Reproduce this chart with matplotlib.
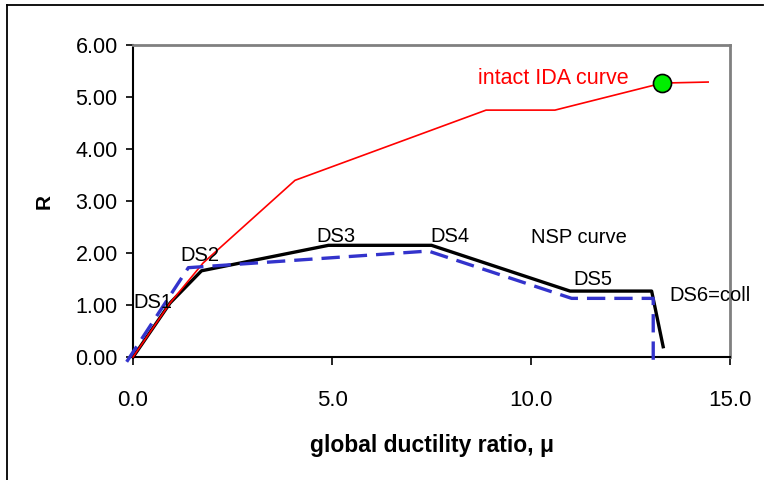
import matplotlib
matplotlib.use('Agg')
import matplotlib.pyplot as plt
from matplotlib.lines import Line2D

plt.rcParams['font.family'] = ['Liberation Sans', 'DejaVu Sans']

# intact IDA curve
ida_mu = [0.0, 0.93, 1.76, 4.07, 8.87, 10.6, 13.3, 14.45]
ida_R = [0.0, 1.04, 1.81, 3.40, 4.75, 4.75, 5.27, 5.29]
collapse_mu, collapse_R = 13.3, 5.27

# NSP curve (solid) and its idealised version (dashed)
nsp_mu = [0.0, 0.93, 1.72, 4.91, 7.50, 10.98, 13.03, 13.32]
nsp_R = [0.0, 1.04, 1.66, 2.15, 2.15, 1.27, 1.27, 0.20]
bil_mu = [-0.16, 1.39, 7.42, 11.02, 13.07, 13.07]
bil_R = [-0.09, 1.72, 2.04, 1.13, 1.13, -0.12]

# damage state labels
ds_labels = ['DS1', 'DS2', 'DS3', 'DS4', 'DS5', 'DS6=coll']
ds_mu = [0.50, 1.69, 5.10, 7.96, 11.56, 14.49]
ds_R = [1.06, 1.96, 2.32, 2.32, 1.50, 1.19]

fig = plt.figure(figsize=(7.65, 4.8), dpi=100)
ax = fig.add_axes([0.1739, 0.256, 0.7804, 0.650])

ax.plot(ida_mu, ida_R, color='red', lw=1.2, clip_on=False, zorder=3)
ax.plot(nsp_mu, nsp_R, color='black', lw=2.4, clip_on=False, zorder=2)
ax.plot(bil_mu, bil_R, color='#3333CC', lw=2.4, dashes=(5.5, 2.7),
        clip_on=False, zorder=4)
ax.plot([collapse_mu], [collapse_R], 'o', ms=13, mfc='#00EE00', mec='black',
        mew=1.2, clip_on=False, zorder=5)

for lab, x, y in zip(ds_labels, ds_mu, ds_R):
    ax.text(x, y, lab, ha='center', va='center', fontsize=14.5, clip_on=False,
            zorder=6)
ax.text(11.2, 2.30, 'NSP curve', ha='center', va='center', fontsize=14.5)
ax.text(10.55, 5.35, 'intact IDA curve', ha='center', va='center',
        fontsize=15.5, color='red')

ax.set_xlim(0, 15)
ax.set_ylim(0, 6)
ax.set_xticks([0, 5, 10, 15])
ax.set_yticks([0, 1, 2, 3, 4, 5, 6])
ax.set_xticklabels([f'{v:.1f}' for v in [0, 5, 10, 15]])
ax.set_yticklabels([f'{v:.2f}' for v in range(7)])
ax.tick_params(axis='x', direction='out', length=6, width=1.2, pad=18,
               labelsize=16, color='black')
ax.tick_params(axis='y', direction='out', length=5, width=1.2, pad=6,
               labelsize=15.5, color='black')

for side in ['top', 'right']:
    ax.spines[side].set_color('#808080')
    ax.spines[side].set_linewidth(2)
for side in ['left', 'bottom']:
    ax.spines[side].set_color('black')
    ax.spines[side].set_linewidth(1.5)

ax.set_xlabel('global ductility ratio, μ', fontsize=16.5, fontweight='bold',
              labelpad=16)
ax.set_ylabel('R', fontsize=15, fontweight='bold', labelpad=16)

# outer frame (top and left edges)
fig.add_artist(Line2D([0.0092, 0.0092], [0.0, 0.9896], color='black', lw=1.3,
                      transform=fig.transFigure))
fig.add_artist(Line2D([0.0092, 0.997], [0.9896, 0.9896], color='black', lw=1.3,
                      transform=fig.transFigure))

fig.savefig('out.png', dpi=100)
